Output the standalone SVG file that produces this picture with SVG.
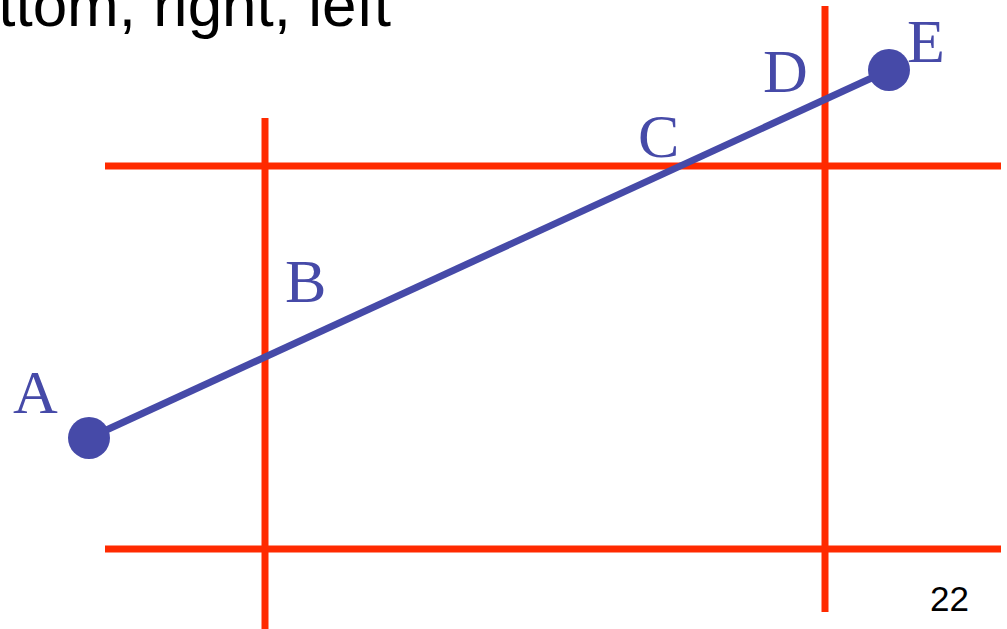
<svg xmlns="http://www.w3.org/2000/svg" width="1007" height="629" viewBox="0 0 1007 629">
<style>
.red{stroke:#ff2a00;stroke-width:7;fill:none}
.blue{stroke:#464aa8;stroke-width:7;fill:none}
.lbl{font-family:"Liberation Serif","Times New Roman",serif;font-size:62px;fill:#464aa8}
.title{font-family:"Liberation Sans",Arial,sans-serif;font-size:62px;fill:#000}
.pg{font-family:"Liberation Sans",Arial,sans-serif;font-size:35px;fill:#000}
</style>
<rect width="1007" height="629" fill="#fff"/>
<text class="title" x="391" y="26" text-anchor="end">ttom, right, left</text>
<g id="clip-lines">
<line class="red" x1="105" y1="166" x2="1001" y2="166"/>
<line class="red" x1="105" y1="549" x2="1001" y2="549"/>
<line class="red" x1="265" y1="118" x2="265" y2="629"/>
<line class="red" x1="825" y1="6" x2="825" y2="612"/>
</g>
<g id="connectors">
<line class="blue" x1="89" y1="438" x2="889" y2="70"/>
</g>
<g id="A"><circle cx="89" cy="438" r="21" fill="#464aa8"/><text class="lbl" x="13" y="413">A</text></g>
<g id="B"><text class="lbl" x="285" y="302">B</text></g>
<g id="C"><text class="lbl" x="638" y="157">C</text></g>
<g id="D"><text class="lbl" x="763" y="92">D</text></g>
<g id="E"><circle cx="889" cy="70" r="21" fill="#464aa8"/><text class="lbl" x="907" y="62">E</text></g>
<text class="pg" x="930" y="611">22</text>
</svg>
